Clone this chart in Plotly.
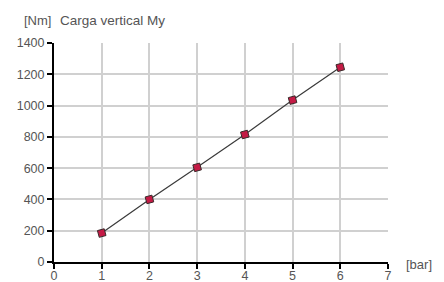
import plotly.graph_objects as go

pressure_bar = [1, 2, 3, 4, 5, 6]
moment_nm = [185, 400, 605, 815, 1035, 1245]
x_ticks = [0, 1, 2, 3, 4, 5, 6, 7]
y_ticks = [0, 200, 400, 600, 800, 1000, 1200, 1400]

font_family = "Liberation Sans, Arial, Helvetica, sans-serif"
text_color = "#555555"

fig = go.Figure()
fig.add_trace(go.Scatter(
    x=pressure_bar, y=moment_nm, mode="lines+markers",
    line=dict(color="#3a3a3a", width=1.2),
    marker=dict(symbol="square", size=7, color="#c41a45", angle=-15,
                line=dict(color="#3a2a2a", width=1)),
    showlegend=False, hoverinfo="x+y",
))

axis_common = dict(
    showline=True, linecolor="black", linewidth=2,
    ticks="outside", ticklen=5, tickwidth=1.5, tickcolor="black",
    showgrid=True, gridcolor="#d0d0d0", gridwidth=1.5,
    zeroline=False, automargin=False,
    tickfont=dict(family=font_family, size=12.5, color=text_color),
)

fig.update_layout(
    width=444, height=282,
    margin=dict(l=54, r=56, t=43, b=20),
    paper_bgcolor="white", plot_bgcolor="white",
    xaxis=dict(range=[0, 7], tickvals=x_ticks, ticktext=[str(v) for v in x_ticks],
               ticklabelstandoff=-4, **axis_common),
    yaxis=dict(range=[0, 1400], tickvals=y_ticks, ticktext=[str(v) for v in y_ticks],
               **axis_common),
    annotations=[
        dict(text="[Nm]", xref="paper", yref="paper", x=-0.096, y=1.0, yshift=23,
             xanchor="left", yanchor="middle", showarrow=False,
             font=dict(family=font_family, size=13, color=text_color)),
        dict(text="Carga vertical My", xref="paper", yref="paper", x=0.012, y=1.0, yshift=23,
             xanchor="left", yanchor="middle", showarrow=False,
             font=dict(family=font_family, size=13.5, color=text_color)),
        dict(text="[bar]", xref="paper", yref="paper", x=1.0, y=0.0, xshift=16, yshift=-2,
             xanchor="left", yanchor="middle", showarrow=False,
             font=dict(family=font_family, size=13, color=text_color)),
    ],
)

fig.write_html("out.html", config={"displayModeBar": False},
               post_script="document.body.style.margin='0';")
